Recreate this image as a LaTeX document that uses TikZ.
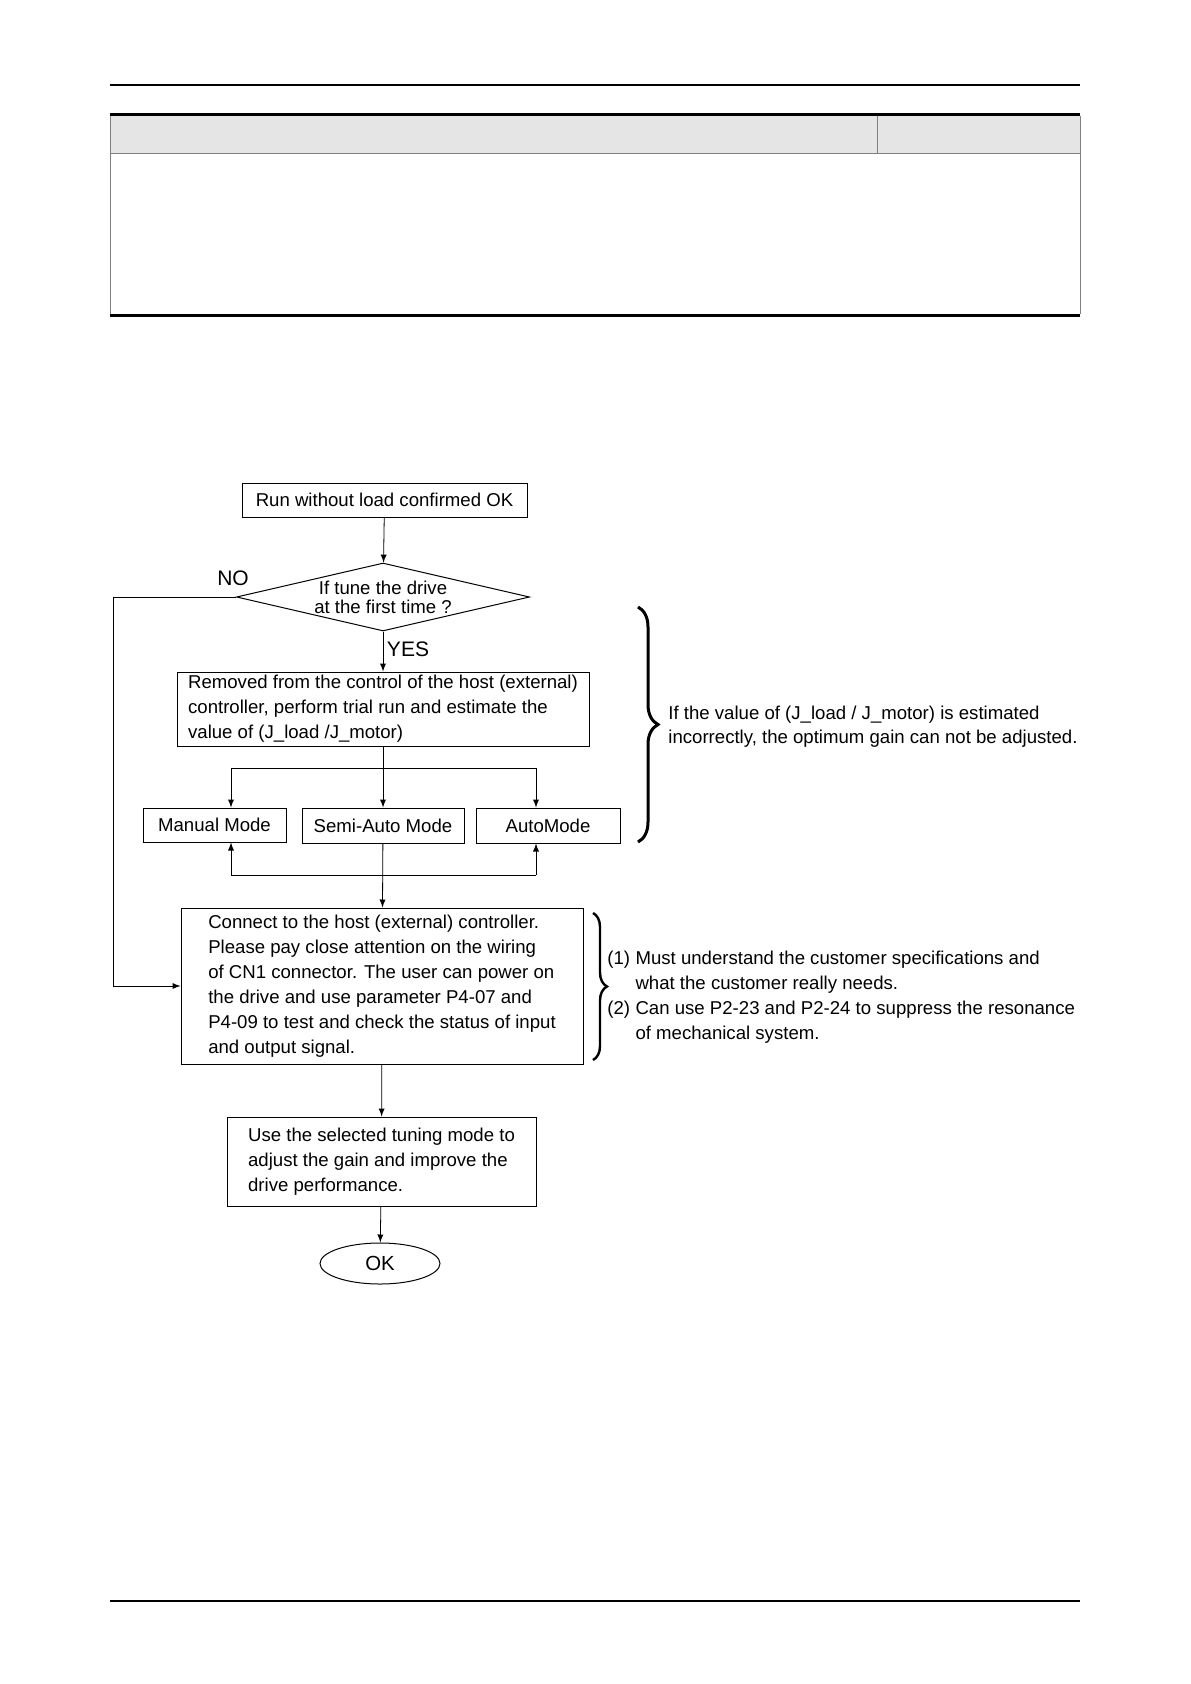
\documentclass[tikz,border=0pt]{standalone}
\usepackage{fontspec}
\setmainfont{Liberation Sans}
\usepackage{tikz}
\usetikzlibrary{arrows}
\usetikzlibrary{shapes.geometric}
\usetikzlibrary{decorations.pathreplacing}

\begin{document}
\begin{tikzpicture}[x=0.5pt, y=-0.5pt, >=latex,
        box/.style={draw, line width=0.5pt, inner sep=0pt, font=\fontsize{9.3}{12.5}\selectfont},
        note/.style={inner sep=0pt, anchor=west, align=left, font=\fontsize{9.3}{12.5}\selectfont},
        lbl/.style={inner sep=0pt, font=\fontsize{10.5}{12}\selectfont}]
        \definecolor{headgray}{rgb}{0.9, 0.9, 0.9}
        \definecolor{rulegray}{rgb}{0.5, 0.5, 0.5}

        \useasboundingbox (0,0) rectangle (1190,1684);

        \draw[line width=0.7pt] (110,85) -- (1080,85);
        \draw[line width=0.7pt] (110,1601) -- (1080,1601);

        \fill[headgray] (110,116) rectangle (1080,154);
        \draw[rulegray, line width=0.5pt] (110,116) -- (110,314);
        \draw[rulegray, line width=0.5pt] (1080,116) -- (1080,314);
        \draw[rulegray, line width=0.5pt] (877,116) -- (877,154);
        \draw[rulegray, line width=0.5pt] (110,154) -- (1080,154);
        \draw[line width=1.5pt] (110,114.5) -- (1080,114.5);
        \draw[line width=1.5pt] (110,315.5) -- (1080,315.5);

        \node[box, minimum width=142.5pt, minimum height=17pt] (run) at (384.5,500) {Run without load confirmed OK};
        \node[box, diamond, aspect=4.3, minimum width=146.5pt, minimum height=34pt, align=center,
              font=\fontsize{9.3}{9.5}\selectfont] (first) at (383,597) {If tune the drive\\at the first time ?};
        \node[lbl] (no) at (233,578) {NO};
        \node[lbl] (yes) at (408,649) {YES};

        \node[box, align=left, minimum width=206pt, minimum height=37pt] (est) at (383,709)
              {Removed from the control of the host (external)\\controller, perform trial run and estimate the\\value of (J\_load /J\_motor)};

        \node[box, minimum width=71.5pt, minimum height=17pt] (manual) at (214.5,825) {Manual Mode};
        \node[box, minimum width=81pt, minimum height=17.5pt] (semi) at (383,825.5) {Semi-Auto Mode};
        \node[box, minimum width=72pt, minimum height=17.5pt] (auto) at (548,825.5) {AutoMode};

        \node[box, align=left, minimum width=201pt, minimum height=78pt] (host) at (382,986)
              {Connect to the host (external) controller.\\Please pay close attention on the wiring\\of CN1 connector. The user can power on\\the drive and use parameter P4-07 and\\P4-09 to test and check the status of input\\and output signal.};

        \node[box, align=left, minimum width=154.5pt, minimum height=44.5pt] (tune) at (381.5,1161.5)
              {Use the selected tuning mode to\\adjust the gain and improve the\\drive performance.};

        \node[box, ellipse, minimum width=60pt, minimum height=20.5pt, font=\fontsize{10.2}{12}\selectfont] (ok) at (380,1263.5) {OK};

        \draw[->] (run) -- (first);
        \draw[->] (first) -- (est);
        \coordinate (noturn) at (113,597);
        \draw[->] (first.west) -- (noturn) |- (host.west);

        \coordinate (splitL) at (231,768);
        \coordinate (splitR) at (536,768);
        \coordinate (joinL) at (231,875);
        \coordinate (joinR) at (536,875);
        \draw (est.south) -- (est.south |- splitL);
        \draw (splitL) -- (splitR);
        \draw[->] (splitL) -- (splitL |- manual.north);
        \draw[->] (est.south |- splitL) -- (semi.north);
        \draw[->] (splitR) -- (splitR |- auto.north);
        \draw (joinL) -- (joinR);
        \draw[->] (joinL) -- (joinL |- manual.south);
        \draw[->] (joinR) -- (joinR |- auto.south);
        \draw[->] (semi) -- (host);
        \draw[->] (host) -- (tune);
        \draw[->] (tune) -- (ok);

        \draw[decorate, decoration={brace, amplitude=10pt}, line width=1.5pt] (638,607) -- (638,842);
        \node[note, font=\fontsize{9.3}{12}\selectfont] (note1) at (668,727)
              {If the value of (J\_load / J\_motor) is estimated\\incorrectly, the optimum gain can not be adjusted.};

        \draw[decorate, decoration={brace, amplitude=7pt}, line width=1.2pt] (593,913) -- (593,1060);
        \node[note] (note2) at (607,996.5)
              {\begin{tabular}{@{}l@{\hspace{2.7pt}}l@{}}
               (1) & Must understand the customer specifications and\\
                   & what the customer really needs.\\
               (2) & Can use P2-23 and P2-24 to suppress the resonance\\
                   & of mechanical system.
               \end{tabular}};
    \end{tikzpicture}
\end{document}
